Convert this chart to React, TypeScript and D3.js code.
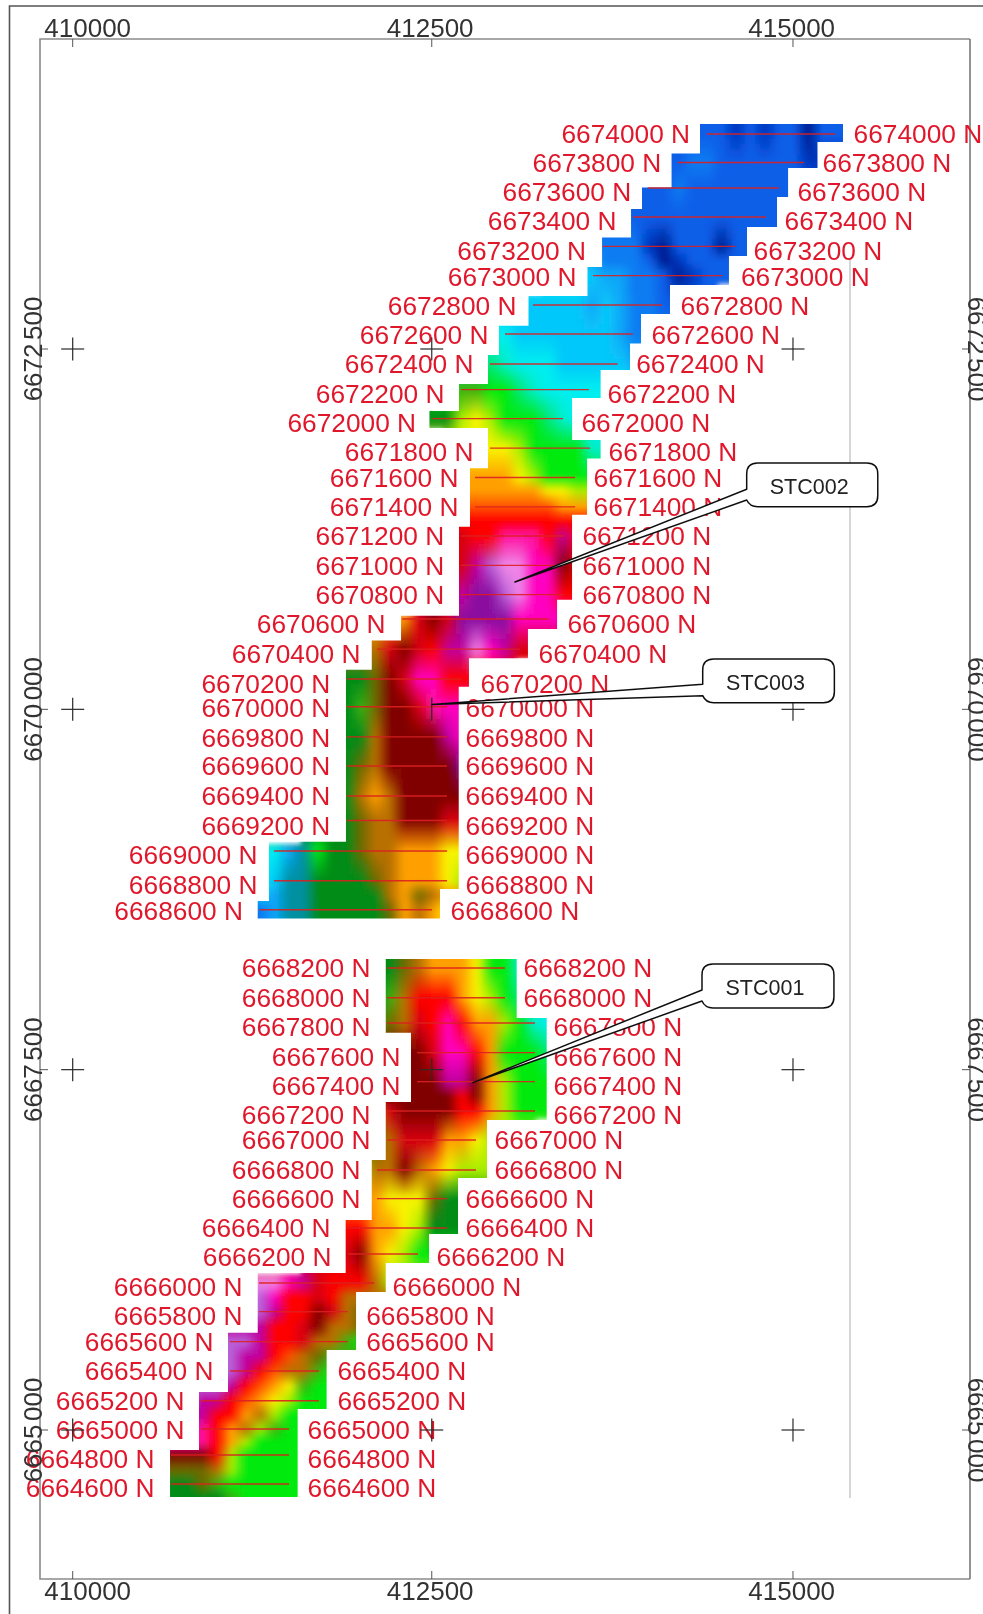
import React, { useMemo } from "react";
import * as d3 from "d3";

// Map axes
const eastTicks = [410000, 412500, 415000];
const eastTickPlotted = [410000, 412490, 414995];
const northTicks = [6665000, 6667500, 6670000, 6672500];
const eastTickLabelShift = [15, -3, -2];

// Survey lines: label northing, plotted northing, west end, east end, label shift (m)
const lineLabels = [6674000,6673800,6673600,6673400,6673200,6673000,6672800,6672600,6672400,6672200,6672000,6671800,6671600,6671400,6671200,6671000,6670800,6670600,6670400,6670200,6670000,6669800,6669600,6669400,6669200,6669000,6668800,6668600,6668200,6668000,6667800,6667600,6667400,6667200,6667000,6666800,6666600,6666400,6666200,6666000,6665800,6665600,6665400,6665200,6665000,6664800,6664600];
const lineNorth = [6673992,6673794,6673617,6673416,6673212,6673009,6672805,6672604,6672396,6672218,6672017,6671812,6671608,6671405,6671203,6670999,6670796,6670627,6670418,6670210,6670018,6669809,6669607,6669399,6669229,6669017,6668811,6668610,6668205,6667999,6667824,6667618,6667417,6667213,6667012,6666804,6666605,6666401,6666221,6666020,6665821,6665613,6665409,6665203,6665007,6664827,6664625];
const lineWest = [414396,414196,413988,413886,413674,413608,413192,412998,412894,412693,412496,412894,412790,412790,412691,412691,412691,412284,412110,411900,411900,411900,411900,411900,411900,411396,411396,411295,412180,412180,412180,412388,412388,412180,412180,412110,412110,411902,411909,411292,411292,411091,411091,410890,410890,410682,410682];
const lineEast = [415287,415072,414898,414808,414593,414506,414087,413885,413779,413581,413400,413588,413484,413484,413407,413407,413407,413303,413102,412700,412596,412596,412596,412596,412596,412596,412596,412492,412998,412998,413206,413206,413206,413206,412797,412797,412596,412596,412395,412090,411907,411907,411708,411708,411500,411500,411500];
const labelShift = [0,0,-28,-28,-28,-7,-7,-7,0,-28,-28,-26,0,0,0,0,0,-34,-31,-31,-5,-5,0,0,-35,-25,-24,-7,0,0,-28,-28,-28,-28,0,0,0,0,-21,-26,-28,0,0,0,-7,-28,-28];

// Stepped outline of the two grid blocks: [northing at the bottom of the step, easting]
const topNorthA = 6674061;
const westA = [[6673856,414350],[6673620,414153],[6673471,413948],[6673274,413872],[6673069,413671],[6672868,413570],[6672662,413161],[6672458,412956],[6672257,412880],[6672070,412679],[6671952,412474],[6671673,412880],[6671267,412755],[6670650,412679],[6670478,412277],[6670275,412074],[6669081,411895],[6668670,411361],[6668548,411283]];
const eastA = [[6673936,415342],[6673756,415165],[6673555,414961],[6673346,414884],[6673145,414676],[6672944,414551],[6672743,414142],[6672538,413941],[6672354,413865],[6672160,413661],[6671869,413463],[6671740,413661],[6671350,413567],[6670760,413463],[6670557,413359],[6670354,413157],[6670156,412748],[6668753,412677],[6668548,412547]];
const topNorthB = 6668268;
const westB = [[6667756,412171],[6667276,412346],[6666873,412171],[6666457,412074],[6666089,411893],[6665675,411283],[6665264,411077],[6664861,410876],[6664535,410675]];
const eastB = [[6667858,413079],[6667151,413287],[6666748,412873],[6666360,412672],[6666159,412471],[6665957,412171],[6665555,411965],[6665146,411761],[6664535,411560]];

// Colour classes of the grid
const swatches: Record<string, string> = {
  N:"#001c90", D:"#0034bc", B:"#0a5ee8", b:"#0a7cf2", s:"#0aa6f8", e:"#06c8fa", c:"#00eef0", t:"#00eecc", h:"#00e878", g:"#00ea10",
  d:"#008c18", f:"#3cb010", T:"#0090a0", l:"#a8ee00", y:"#f8f400", o:"#ffa000", u:"#ff5000", a:"#b87000", n:"#6e6a00", R:"#ff0000",
  r:"#d80010", m:"#800000", p:"#8a10a0", q:"#c000a0", M:"#ff00c0", i:"#ff10a0", k:"#f088e8", v:"#b860d8",
};

// Grid samples per row: northing, first easting, one class per 100 m
const gridNorth = [6674061,6673992,6673794,6673617,6673416,6673212,6673110,6673009,6672805,6672604,6672396,6672218,6672017,6671812,6671608,6671520,6671405,6671307,6671203,6670999,6670796,6670627,6670418,6670210,6670018,6669809,6669607,6669399,6669229,6669017,6668811,6668712,6668610,6668548,6668268,6668205,6667999,6667824,6667618,6667417,6667317,6667213,6667012,6666804,6666605,6666401,6666221,6666020,6665923,6665821,6665715,6665613,6665513,6665409,6665305,6665203,6665104,6665007,6664917,6664827,6664722,6664625,6664535];
const gridStart = [414300,414300,414100,413900,413800,413600,413600,413500,413100,412900,412800,412600,412400,412800,412700,412700,412700,412600,412600,412700,412700,412200,412000,411800,411900,411900,411900,411900,411900,411300,411300,411200,411200,411200,412100,412100,412100,412100,412300,412300,412300,412100,412100,412000,412000,411800,411800,411200,411200,411200,411200,411000,411000,411000,411000,410800,410800,410800,410800,410700,410700,410700,410700];
const gridClass = ["BBBDBDBBNBB","BBBDBDBBNBB","BBbbBBBBBBD","BBBbBBBBBBBB","BBBBBBBBBBBB","bbbbDNBBBNBB","sbbbBNDBBBBB","cessbbBNDBB","eeeeesesbbB","cceeeeeeesbb","hhtccceeeees","gffgghtccccc","dddlylggghtc","yyylggggtt","ooooylgggg","ooooooyyll","uuuuuuuooo","rRRRRRRRRRR","rrRRiiiRqR","rqvkkMMmr","qppvkMMRR","oormrppppMMMM","aarmrRqqkMqrr","dddnmrMMRR","dfnmmriMM","ddammmmqM","dnammmmmp","daoammmmm","dnaammmrr","ccsTgddnaaoooyy","ceTTddddnaoooyl","besTTdddddaonao","BbsTTdddddnoaoy","BbsTTdddddnoaoy","ddnaoooyggtt","ddnaoooyggtt","dfaRRRoylght","fnarRMRoolgtc","mmrMMRogggh","mmmqqmolggg","mmmmRmolggg","armmmmRRolggg","narrrooyl","laamaoylll","ooyyyndd","RRRooylddd","rrmoylgg","kkkMqrRRRal","kvMRRrRaa","vvqRRmran","qqRRrmaan","vvvqRRraafg","vvqqRuanf","vvqRuaafg","vqRuoyfgg","vqqRuoylggg","qqRRoalgg","qiRoalfgg","iiRolgggg","mmmRlggggg","nnnalggggg","ddnfgggggg","ddddfggggg"];

// Callouts
const callouts = [
  { name: "STC002", west: 414674, east: 415583, north: 6671709, south: 6671406, upper: 6671527, lower: 6671452, tipE: 413067, tipN: 6670883 },
  { name: "STC003", west: 414369, east: 415282, north: 6670349, south: 6670046, upper: 6670174, lower: 6670095, tipE: 412490, tipN: 6670033 },
  { name: "STC001", west: 414364, east: 415279, north: 6668233, south: 6667928, upper: 6668053, lower: 6667976, tipE: 412776, tipN: 6667410 },
];

const W = 983;
const H = 1614;
const x = d3.scaleLinear().domain([410000, 415000]).range([72.7, 793.7]);
const y = d3.scaleLinear().domain([6665000, 6672500]).range([1430, 349]);

const rgbOf: Record<string, d3.RGBColor> = Object.fromEntries(
  Object.entries(swatches).map(([k, v]) => [k, d3.rgb(v)])
);

function sampleRow(i: number, e: number): number[] {
  const s = gridClass[i];
  const p = Math.max(0, Math.min(s.length - 1, (e - gridStart[i]) / 100));
  const a = Math.floor(p);
  const b = Math.min(s.length - 1, a + 1);
  const t = p - a;
  const ca = rgbOf[s[a]];
  const cb = rgbOf[s[b]];
  return [ca.r + (cb.r - ca.r) * t, ca.g + (cb.g - ca.g) * t, ca.b + (cb.b - ca.b) * t];
}

function colourAt(e: number, n: number, nMin: number, nMax: number): string {
  const nn = Math.max(nMin, Math.min(nMax, n));
  let j = gridNorth.findIndex((v) => v <= nn);
  if (j <= 0) j = j === 0 ? 1 : gridNorth.length - 1;
  const i = j - 1;
  const t = Math.max(0, Math.min(1, (gridNorth[i] - nn) / (gridNorth[i] - gridNorth[j])));
  const a = sampleRow(i, e);
  const b = sampleRow(j, e);
  return `rgb(${Math.round(a[0] + (b[0] - a[0]) * t)},${Math.round(a[1] + (b[1] - a[1]) * t)},${Math.round(a[2] + (b[2] - a[2]) * t)})`;
}

function stepAt(steps: number[][], n: number): number {
  const s = steps.find((d) => n >= d[0]);
  return s ? s[1] : steps[steps.length - 1][1];
}

type Cell = { x: number; y: number; w: number; h: number; fill: string };

function buildCells(top: number, west: number[][], east: number[][]): Cell[] {
  const cells: Cell[] = [];
  const bottom = west[west.length - 1][0];
  const cellPx = 5;
  const pad = 45;
  const yTop = y(top) - 15;
  const yBot = y(bottom) + 15;
  for (let py = yTop; py < yBot; py += cellPx) {
    const n = y.invert(py + cellPx / 2);
    const xw = x(stepAt(west, n)) - pad;
    const xe = x(stepAt(east, n)) + pad;
    for (let px = xw; px < xe; px += cellPx) {
      cells.push({ x: px, y: py, w: cellPx + 0.4, h: cellPx + 0.4, fill: colourAt(x.invert(px + cellPx / 2), n, bottom, top) });
    }
  }
  return cells;
}

function outline(top: number, west: number[][], east: number[][]): string {
  const pts: [number, number][] = [];
  let prev = top;
  west.forEach((d) => {
    pts.push([x(d[1]), y(prev)], [x(d[1]), y(d[0])]);
    prev = d[0];
  });
  const eastRev = [...east].reverse();
  eastRev.forEach((d, i) => {
    const upper = i + 1 < eastRev.length ? eastRev[i + 1][0] : top;
    pts.push([x(d[1]), y(d[0])], [x(d[1]), y(upper)]);
  });
  return d3.line()(pts) + "Z";
}

function calloutPath(c: (typeof callouts)[number]): string {
  const l = x(c.west), r = x(c.east), t = y(c.north), b = y(c.south);
  const rad = 11;
  return [
    `M${l},${y(c.upper)}`, `L${l},${t + rad}`, `Q${l},${t} ${l + rad},${t}`,
    `L${r - rad},${t}`, `Q${r},${t} ${r},${t + rad}`, `L${r},${b - rad}`,
    `Q${r},${b} ${r - rad},${b}`, `L${l + rad},${b}`, `Q${l + 3},${b} ${l},${y(c.lower)}`,
    `L${x(c.tipE)},${y(c.tipN)}`, "Z",
  ].join(" ");
}

const FONT = "'Liberation Sans', Arial, sans-serif";
const RED = "#e0182c";
const AXIS_TEXT = "#333";
const LABEL_SIZE = 26.3;

function SplitNorth({ v, tx }: { v: number; tx: string }) {
  const s = String(v);
  return (
    <text transform={tx}>
      <tspan>{s.slice(0, 4)}</tspan>
      <tspan dx={3.5}>{s.slice(4)}</tspan>
    </text>
  );
}

export default function App() {
  const cellsA = useMemo(() => buildCells(topNorthA, westA, eastA), []);
  const cellsB = useMemo(() => buildCells(topNorthB, westB, eastB), []);
  const plotL = 40, plotT = 39, plotR = 970, plotB = 1579;

  return (
    <svg width={W} height={H} viewBox={`0 0 ${W} ${H}`} style={{ position: "absolute", left: 0, top: 0, background: "#fff" }} fontFamily={FONT}>
      <defs>
        <filter id="soft" filterUnits="userSpaceOnUse" x={0} y={0} width={W} height={H}>
          <feGaussianBlur stdDeviation={0.55} />
        </filter>
        <filter id="field" filterUnits="userSpaceOnUse" x={0} y={0} width={W} height={H}>
          <feGaussianBlur stdDeviation={2.6} />
        </filter>
        <clipPath id="clipA"><path d={outline(topNorthA, westA, eastA)} /></clipPath>
        <clipPath id="clipB"><path d={outline(topNorthB, westB, eastB)} /></clipPath>
      </defs>
      <g filter="url(#soft)">
        <rect x={0} y={0} width={W} height={H} fill="#fff" />
        <path d={`M9.5,${H} V6 H${W}`} fill="none" stroke="#555" strokeWidth={1.6} />
        <path d={`M${plotR},${plotB} H${plotL} V${plotT} H${plotR}`} fill="none" stroke="#8a8a8a" strokeWidth={1.6} />
        <line x1={plotR} x2={plotR} y1={plotT} y2={plotB} stroke="#666" strokeWidth={1.4} />
        <line x1={850} x2={850} y1={258} y2={1498} stroke="#c8c8c8" strokeWidth={1.5} />

        {eastTickPlotted.map((v) => (
          <g key={v} stroke="#555" strokeWidth={1}>
            <line x1={x(v)} x2={x(v)} y1={plotT} y2={plotT + 8} />
            <line x1={x(v)} x2={x(v)} y1={plotB} y2={plotB - 8} />
          </g>
        ))}
        {northTicks.map((v) => (
          <g key={v} stroke="#555" strokeWidth={1}>
            <line x1={plotL} x2={plotL + 8} y1={y(v)} y2={y(v)} />
            <line x1={plotR} x2={plotR - 8} y1={y(v)} y2={y(v)} />
          </g>
        ))}

        <g clipPath="url(#clipA)">
          <g filter="url(#field)" shapeRendering="crispEdges">
            {cellsA.map((c, i) => (
              <rect key={i} x={c.x} y={c.y} width={c.w} height={c.h} fill={c.fill} />
            ))}
          </g>
        </g>
        <g clipPath="url(#clipB)">
          <g filter="url(#field)" shapeRendering="crispEdges">
            {cellsB.map((c, i) => (
              <rect key={i} x={c.x} y={c.y} width={c.w} height={c.h} fill={c.fill} />
            ))}
          </g>
        </g>

        {lineLabels.map((lab, i) => {
          const yl = y(lineNorth[i]);
          const yt = y(lineNorth[i] + labelShift[i]) + 9.4;
          return (
            <g key={lab}>
              <line x1={x(lineWest[i])} x2={x(lineEast[i])} y1={yl} y2={yl} stroke="#dc2020" strokeWidth={1.4} strokeOpacity={0.9} />
              <text x={x(lineWest[i]) - 16.5} y={yt} textAnchor="end" fontSize={LABEL_SIZE} fill={RED}>{`${lab} N`}</text>
              <text x={x(lineEast[i]) + 18.5} y={yt} fontSize={LABEL_SIZE} fill={RED}>{`${lab} N`}</text>
            </g>
          );
        })}

        {eastTickPlotted.flatMap((e) =>
          northTicks.map((n) => (
            <g key={`${e}-${n}`} stroke="#2a2a2a" strokeWidth={1.2}>
              {!(e === 412490 && n === 6670000) && (
                <line x1={x(e) - 11.5} x2={x(e) + 11.5} y1={y(n)} y2={y(n)} />
              )}
              <line x1={x(e)} x2={x(e)} y1={y(n) - 11.5} y2={y(n) + 11.5} />
            </g>
          ))
        )}

        {eastTicks.map((v, i) => (
          <g key={v} fontSize={26} fill={AXIS_TEXT} textAnchor="middle">
            <text x={x(v) + eastTickLabelShift[i]} y={37}>{v}</text>
            <text x={x(v) + eastTickLabelShift[i]} y={1600}>{v}</text>
          </g>
        ))}
        {northTicks.map((v) => (
          <g key={v} fontSize={26} fill={AXIS_TEXT} textAnchor="middle">
            <SplitNorth v={v} tx={`translate(41.5,${y(v)}) rotate(-90)`} />
            <SplitNorth v={v} tx={`translate(968,${y(v)}) rotate(90)`} />
          </g>
        ))}

        {callouts.map((c) => (
          <g key={c.name}>
            <path d={calloutPath(c)} fill="#fff" stroke="#111" strokeWidth={1.5} strokeLinejoin="round" />
            <text x={(x(c.west) + x(c.east)) / 2 - 3} y={(y(c.north) + y(c.south)) / 2 + 9} textAnchor="middle" fontSize={21.5} fill="#222">{c.name}</text>
          </g>
        ))}
      </g>
    </svg>
  );
}
